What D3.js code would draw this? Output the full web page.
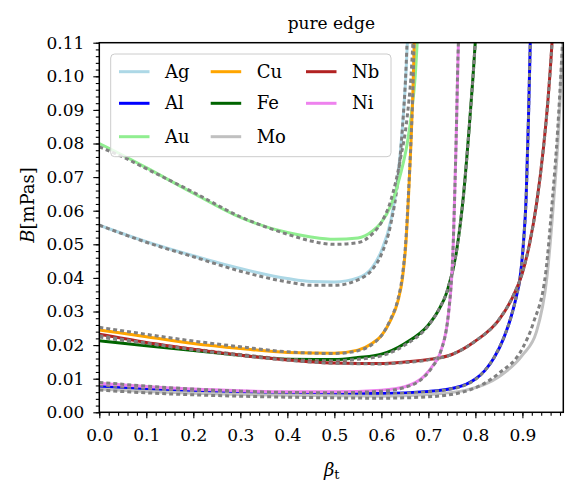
<!DOCTYPE html>
<html>
<head>
<meta charset="utf-8">
<script src="https://cdn.jsdelivr.net/npm/d3@7"></script>
<style>
  body { margin: 0; background: #fff; }
  svg text { font-family: "DejaVu Serif", "Liberation Serif", serif; }
</style>
</head>
<body>
<div id="root"></div>
<script>
// data: [beta_t, B in mPas]
var metals = ["Ag", "Al", "Au", "Cu", "Fe", "Mo", "Nb", "Ni"];

var Ag = [[0,0.0557],[0.1,0.0508],[0.2,0.0466],[0.3,0.0428],[0.4,0.0398],[0.45,0.0389],[0.5,0.0388],[0.55,0.0400],[0.58,0.0430],[0.6,0.048],[0.62,0.057],[0.635,0.070],[0.645,0.085],[0.652,0.100],[0.657,0.115]];
var AgFit = [[0,0.0557],[0.1,0.0506],[0.2,0.0463],[0.3,0.0420],[0.4,0.0388],[0.45,0.0378],[0.5,0.0378],[0.55,0.0394],[0.58,0.0424],[0.6,0.047],[0.62,0.056],[0.635,0.069],[0.645,0.085],[0.652,0.101],[0.656,0.115]];
var Al = [[0,0.0077],[0.1,0.0069],[0.2,0.0063],[0.3,0.0059],[0.4,0.0057],[0.5,0.0056],[0.6,0.0056],[0.7,0.0062],[0.75,0.0071],[0.78,0.0083],[0.8,0.0099],[0.82,0.0124],[0.84,0.0163],[0.86,0.0220],[0.875,0.028],[0.888,0.035],[0.895,0.040],[0.902,0.050],[0.908,0.064],[0.913,0.088],[0.9167,0.110],[0.918,0.118]];
var AlFit = [[0,0.0081],[0.1,0.0071],[0.2,0.0064],[0.3,0.0059],[0.4,0.0056],[0.5,0.0055],[0.6,0.0055],[0.7,0.0061],[0.75,0.0070],[0.78,0.0082],[0.8,0.0098],[0.82,0.0124],[0.84,0.0164],[0.86,0.0221],[0.875,0.028],[0.888,0.035],[0.895,0.040],[0.902,0.050],[0.908,0.064],[0.913,0.088],[0.9167,0.110],[0.918,0.118]];
var Au = [[0,0.0800],[0.05,0.0765],[0.1,0.0728],[0.2,0.0652],[0.3,0.0580],[0.4,0.0535],[0.45,0.0522],[0.5,0.0515],[0.55,0.0519],[0.58,0.0538],[0.6,0.0565],[0.62,0.0615],[0.64,0.0705],[0.655,0.080],[0.665,0.090],[0.672,0.100],[0.678,0.115]];
var AuFit = [[0,0.0790],[0.05,0.0760],[0.1,0.0725],[0.2,0.0655],[0.3,0.0582],[0.4,0.0530],[0.45,0.0510],[0.5,0.0500],[0.55,0.0505],[0.58,0.0530],[0.6,0.0565],[0.62,0.0630],[0.64,0.0750],[0.655,0.088],[0.663,0.100],[0.669,0.115]];
var Cu = [[0,0.0245],[0.1,0.0225],[0.2,0.0205],[0.3,0.0190],[0.4,0.0178],[0.5,0.0176],[0.55,0.0185],[0.58,0.0205],[0.6,0.0228],[0.62,0.0275],[0.635,0.0330],[0.645,0.040],[0.652,0.050],[0.658,0.065],[0.663,0.080],[0.667,0.095],[0.671,0.115]];
var CuFit = [[0,0.0253],[0.1,0.0232],[0.2,0.0212],[0.3,0.0195],[0.4,0.0180],[0.5,0.0175],[0.55,0.0183],[0.58,0.0202],[0.6,0.0228],[0.62,0.0278],[0.635,0.0335],[0.645,0.041],[0.652,0.051],[0.658,0.066],[0.663,0.081],[0.667,0.096],[0.670,0.115]];
var Fe = [[0,0.0213],[0.1,0.0198],[0.2,0.0184],[0.3,0.0170],[0.4,0.0158],[0.5,0.0157],[0.55,0.0163],[0.6,0.0173],[0.65,0.0205],[0.7,0.0260],[0.72,0.0300],[0.74,0.0360],[0.76,0.0480],[0.775,0.065],[0.787,0.085],[0.795,0.100],[0.802,0.115]];
var FeFit = [[0,0.0224],[0.1,0.0205],[0.2,0.0188],[0.3,0.0172],[0.4,0.0158],[0.5,0.0153],[0.55,0.0158],[0.6,0.0168],[0.65,0.0200],[0.7,0.0258],[0.72,0.0300],[0.74,0.0362],[0.76,0.0482],[0.775,0.065],[0.787,0.085],[0.795,0.100],[0.802,0.115]];
var Mo = [[0,0.0069],[0.1,0.0062],[0.2,0.0057],[0.3,0.0053],[0.4,0.0051],[0.5,0.0049],[0.6,0.0048],[0.7,0.0053],[0.78,0.0066],[0.85,0.0106],[0.9,0.0170],[0.93,0.0240],[0.952,0.040],[0.966,0.062],[0.977,0.084],[0.984,0.104],[0.988,0.117]];
var MoFit = [[0,0.0066],[0.1,0.0058],[0.2,0.0052],[0.3,0.0048],[0.4,0.0045],[0.5,0.0043],[0.6,0.0042],[0.7,0.0046],[0.78,0.0063],[0.85,0.0116],[0.9,0.0190],[0.923,0.0265],[0.95,0.042],[0.963,0.062],[0.975,0.084],[0.983,0.104],[0.988,0.118]];
var Nb = [[0,0.0232],[0.1,0.0208],[0.2,0.0188],[0.3,0.0170],[0.4,0.0156],[0.5,0.0147],[0.6,0.0145],[0.65,0.0150],[0.7,0.0157],[0.75,0.0172],[0.8,0.0212],[0.85,0.0275],[0.88,0.0345],[0.9,0.0415],[0.915,0.050],[0.93,0.062],[0.945,0.079],[0.955,0.094],[0.963,0.110],[0.965,0.115]];
var NbFit = [[0,0.0228],[0.1,0.0206],[0.2,0.0186],[0.3,0.0169],[0.4,0.0155],[0.5,0.0146],[0.6,0.0144],[0.65,0.0148],[0.7,0.0156],[0.75,0.0172],[0.8,0.0212],[0.85,0.0276],[0.88,0.0346],[0.9,0.0416],[0.915,0.050],[0.93,0.062],[0.945,0.079],[0.955,0.094],[0.963,0.110],[0.965,0.115]];
var Ni = [[0,0.0086],[0.1,0.0077],[0.2,0.0069],[0.3,0.0064],[0.4,0.0061],[0.5,0.0061],[0.6,0.0066],[0.65,0.0076],[0.69,0.0106],[0.71,0.0140],[0.725,0.0176],[0.743,0.0295],[0.753,0.050],[0.759,0.080],[0.763,0.105],[0.765,0.115]];
var NiFit = [[0,0.0089],[0.1,0.0078],[0.2,0.0069],[0.3,0.0063],[0.4,0.0059],[0.5,0.0058],[0.6,0.0063],[0.65,0.0074],[0.69,0.0104],[0.71,0.0138],[0.725,0.0176],[0.743,0.0298],[0.753,0.051],[0.759,0.081],[0.763,0.106],[0.765,0.115]];

var xTicks = [0, 0.1, 0.2, 0.3, 0.4, 0.5, 0.6, 0.7, 0.8, 0.9];
var yTicks = [0, 0.01, 0.02, 0.03, 0.04, 0.05, 0.06, 0.07, 0.08, 0.09, 0.10, 0.11];

var solid = {Ag: Ag, Al: Al, Au: Au, Cu: Cu, Fe: Fe, Mo: Mo, Nb: Nb, Ni: Ni};
var fits = {Ag: AgFit, Al: AlFit, Au: AuFit, Cu: CuFit, Fe: FeFit, Mo: MoFit, Nb: NbFit, Ni: NiFit};
var colors = {Ag: "lightblue", Al: "blue", Au: "lightgreen", Cu: "orange", Fe: "darkgreen", Mo: "silver", Nb: "firebrick", Ni: "violet"};

// layout
var W = 585, H = 491;
var pLeft = 99.3, pRight = 563.3, pTop = 42.7, pBottom = 412.3;
var serif = "DejaVu Serif";

var svg = d3.select("#root").append("svg")
  .attr("width", W).attr("height", H);

var x = d3.scaleLinear().domain([0, 0.987]).range([pLeft, pRight]);
var y = d3.scaleLinear().domain([0, 0.11]).range([pBottom, pTop]);

svg.append("clipPath").attr("id", "clip")
  .append("rect").attr("x", pLeft).attr("y", pTop)
  .attr("width", pRight - pLeft).attr("height", pBottom - pTop);

var line = d3.line()
  .x(function (d) { return x(d[0]); })
  .y(function (d) { return y(d[1]); })
  .curve(d3.curveMonotoneX);

var plot = svg.append("g").attr("clip-path", "url(#clip)");
metals.forEach(function (m) {
  plot.append("path").datum(solid[m])
    .attr("d", line).attr("fill", "none")
    .attr("stroke", colors[m]).attr("stroke-width", 3);
  plot.append("path").datum(fits[m])
    .attr("d", line).attr("fill", "none")
    .attr("stroke", "gray").attr("stroke-width", 3)
    .attr("stroke-dasharray", "4,3");
});

// minor ticks
var xMinor = d3.range(0, 0.987, 0.02);
var yMinor = d3.range(0, 0.1101, 0.002);
svg.append("g").attr("transform", "translate(0," + pBottom + ")")
  .call(d3.axisBottom(x).tickValues(xMinor).tickSize(3.5).tickFormat(""))
  .call(function (g) { g.select(".domain").remove(); });
svg.append("g").attr("transform", "translate(" + pLeft + ",0)")
  .call(d3.axisLeft(y).tickValues(yMinor).tickSize(3.5).tickFormat(""))
  .call(function (g) { g.select(".domain").remove(); });

// major ticks
var xAxis = svg.append("g").attr("transform", "translate(0," + pBottom + ")")
  .call(d3.axisBottom(x).tickValues(xTicks).tickSize(6).tickPadding(11).tickFormat(d3.format(".1f")));
xAxis.select(".domain").remove();
var yAxis = svg.append("g").attr("transform", "translate(" + pLeft + ",0)")
  .call(d3.axisLeft(y).tickValues(yTicks).tickSize(6).tickPadding(9).tickFormat(d3.format(".2f")));
yAxis.select(".domain").remove();
svg.selectAll(".tick line").attr("stroke", "#000").attr("stroke-width", 1.1);
svg.selectAll(".tick text").attr("font-size", 17).style("font-family", serif).attr("fill", "#000");

// frame
svg.append("rect").attr("x", pLeft).attr("y", pTop)
  .attr("width", pRight - pLeft).attr("height", pBottom - pTop)
  .attr("fill", "none").attr("stroke", "#000").attr("stroke-width", 1.5);

// title and labels
svg.append("text").attr("x", (pLeft + pRight) / 2).attr("y", 29)
  .attr("text-anchor", "middle").attr("font-size", 17).style("font-family", serif).text("pure edge");

var xl = svg.append("text").attr("x", 331.7).attr("y", 476)
  .attr("text-anchor", "middle").attr("font-size", 18).style("font-family", serif);
xl.append("tspan").attr("font-style", "italic").text("β");
xl.append("tspan").attr("font-size", 13).attr("dy", 3).text("t");

var yl = svg.append("text")
  .attr("transform", "translate(34,205) rotate(-90)")
  .attr("text-anchor", "middle").attr("font-size", 18).style("font-family", serif);
yl.append("tspan").attr("font-style", "italic").text("B");
yl.append("tspan").text("[mPas]");

// legend
var lg = svg.append("g");
lg.append("rect").attr("x", 110.7).attr("y", 54).attr("width", 280.3).attr("height", 102.7)
  .attr("rx", 4).attr("fill", "#fff").attr("fill-opacity", 0.8)
  .attr("stroke", "#ccc").attr("stroke-width", 1);
var colX = [119, 210.7, 306];
var rowY = [71.7, 103.3, 136.7];
metals.forEach(function (m, i) {
  var cx = colX[Math.floor(i / 3)], cy = rowY[i % 3];
  lg.append("line").attr("x1", cx).attr("x2", cx + 30.5)
    .attr("y1", cy).attr("y2", cy)
    .attr("stroke", colors[m]).attr("stroke-width", 3);
  lg.append("text").attr("x", cx + 46).attr("y", cy + 6)
    .attr("font-size", 18).style("font-family", serif).text(m);
});
</script>
</body>
</html>
